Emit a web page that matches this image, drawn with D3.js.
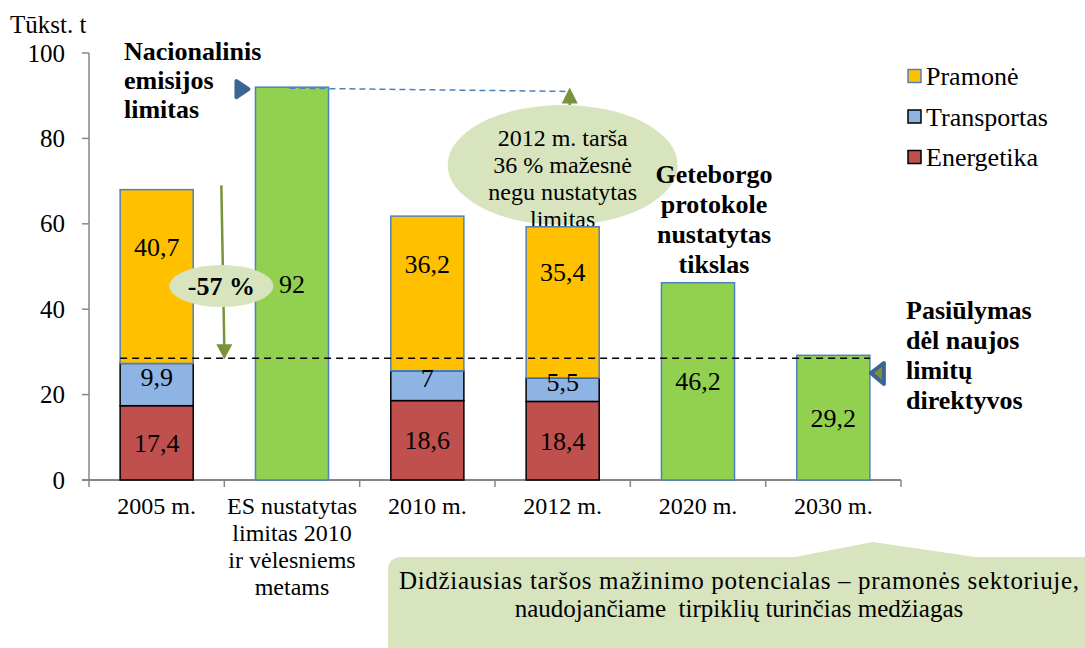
<!DOCTYPE html>
<html><head><meta charset="utf-8"><script src="https://cdn.jsdelivr.net/npm/d3@7"></script></head>
<body style="margin:0">
<svg id="s" width="1085" height="648"></svg>
<script>
// ---------------- DATA ----------------
const categories = ["2005 m.", "ES limitas", "2010 m.", "2012 m.", "2020 m.", "2030 m."];
const categoryLines = [
  ["2005 m."],
  ["ES nustatytas", "limitas 2010", "ir vėlesniems", "metams"],
  ["2010 m."],
  ["2012 m."],
  ["2020 m."],
  ["2030 m."]
];
const energetika  = [17.4, null, 18.6, 18.4, null, null];
const transportas = [9.9,  null, 7,    5.5,  null, null];
const pramone     = [40.7, null, 36.2, 35.4, null, null];
const limitai     = [null, 92,   null, null, 46.2, 29.2];
const yTicks = [0, 20, 40, 60, 80, 100];
const seriesNames = ["Pramonė", "Transportas", "Energetika"];
const proposalLevel = 28.5;
const limit2012Target = 91;
const yUnit = "Tūkst. t";

// ---------------- STYLE ----------------
const FONT = "Liberation Serif";
const colors = { Energetika: "#C0504D", Transportas: "#8EB4E3", "Pramonė": "#FFC000", limit: "#92D050" };
const strokes = { Energetika: "#000", Transportas: "#000", "Pramonė": "#4F81BD", limit: "#4F81BD" };
const noteFill = "#D7E4BD";
const arrowGreen = "#77933C";
const markerBlue = "#3E6494";

const svg = d3.select("#s");
const x = d3.scaleBand().domain(categories).range([89, 901]).paddingInner(0.46).paddingOuter(0.23);
const y = d3.scaleLinear().domain([0, 100]).range([480, 53]);
const fmt = v => String(v).replace(".", ",");

function txt(parent, t, x0, y0, size, opts = {}) {
  const el = parent.append("text").attr("x", x0).attr("y", y0)
    .attr("font-size", size).attr("font-family", FONT)
    .style("font-family", "'Liberation Serif'")
    .attr("text-anchor", opts.anchor || "start");
  if (opts.bold) el.attr("font-weight", "bold");
  if (opts.dy) el.attr("dy", opts.dy);
  if (opts.len) el.attr("textLength", opts.len).attr("lengthAdjust", "spacing");
  el.text(t);
  return el;
}

// ---------- ellipse note (behind bars) ----------
const e1 = svg.append("g");
const e1cx = x("2012 m.") + x.bandwidth() / 2, e1cy = 165;
e1.append("ellipse").attr("cx", e1cx).attr("cy", e1cy).attr("rx", 115).attr("ry", 60).attr("fill", noteFill);
["2012 m. tarša", "36 % mažesnė", "negu nustatytas", "limitas"].forEach((t, i) => {
  txt(e1, t, e1cx, 146 + i * 27, 24, { anchor: "middle" });
});

// ---------- axes ----------
const axisColor = "#868686";
svg.append("line").attr("x1", x.range()[0]).attr("x2", x.range()[0]).attr("y1", y(100)).attr("y2", y(0))
  .attr("stroke", axisColor).attr("stroke-width", 1.5);
yTicks.forEach(v => {
  svg.append("line").attr("x1", x.range()[0] - 7).attr("x2", x.range()[0]).attr("y1", y(v)).attr("y2", y(v))
    .attr("stroke", axisColor).attr("stroke-width", 1.5);
  txt(svg, String(v), x.range()[0] - 24, y(v), 25, { anchor: "end", dy: "0.34em" });
});

const step = x.step();
const bounds = d3.range(categories.length + 1).map(i => x.range()[0] + i * step);
svg.append("line").attr("x1", x.range()[0] - 7).attr("x2", x.range()[1]).attr("y1", y(0)).attr("y2", y(0))
  .attr("stroke", axisColor).attr("stroke-width", 2);
bounds.forEach(d => svg.append("line")
  .attr("x1", d).attr("x2", d).attr("y1", y(0)).attr("y2", y(0) + 7)
  .attr("stroke", axisColor).attr("stroke-width", 1.5));

categoryLines.forEach((lines, i) => {
  const cx = x(categories[i]) + x.bandwidth() / 2;
  lines.forEach((t, j) => txt(svg, t, cx, 514 + j * 27, 24, { anchor: "middle" }));
});

txt(svg, yUnit, 10, 33, 25);

// ---------- bars ----------
const stackRows = categories.map((c, i) => ({ cat: c, Energetika: energetika[i] || 0, Transportas: transportas[i] || 0, "Pramonė": pramone[i] || 0 }));
const stack = d3.stack().keys(["Energetika", "Transportas", "Pramonė"])(stackRows);
const labelShift = { Energetika: 0, Transportas: -8, "Pramonė": -30 };
const bars = svg.append("g");
stack.forEach(layer => {
  const key = layer.key;
  layer.forEach(seg => {
    const v = seg[1] - seg[0];
    if (!v) return;
    bars.append("rect").attr("x", x(seg.data.cat)).attr("width", x.bandwidth())
      .attr("y", y(seg[1])).attr("height", y(seg[0]) - y(seg[1]))
      .attr("fill", colors[key]).attr("stroke", strokes[key]).attr("stroke-width", 1.5);
  });
});
categories.forEach((c, i) => {
  if (limitai[i] == null) return;
  bars.append("rect").attr("x", x(c)).attr("width", x.bandwidth())
    .attr("y", y(limitai[i])).attr("height", y(0) - y(limitai[i]))
    .attr("fill", colors.limit).attr("stroke", strokes.limit).attr("stroke-width", 1.5);
});
stack.forEach(layer => {
  const key = layer.key;
  layer.forEach(seg => {
    const v = seg[1] - seg[0];
    if (!v) return;
    txt(bars, fmt(Math.round(v * 10) / 10), x(seg.data.cat) + x.bandwidth() / 2,
      (y(seg[0]) + y(seg[1])) / 2 + labelShift[key], 26, { anchor: "middle", dy: "0.35em" });
  });
});
categories.forEach((c, i) => {
  if (limitai[i] == null) return;
  txt(bars, fmt(limitai[i]), x(c) + x.bandwidth() / 2, (y(0) + y(limitai[i])) / 2, 26, { anchor: "middle", dy: "0.35em" });
});

// ---------- proposal dashed line ----------
svg.append("line").attr("x1", x("2005 m.")).attr("x2", x("2030 m.") + x.bandwidth())
  .attr("y1", y(proposalLevel)).attr("y2", y(proposalLevel))
  .attr("stroke", "#000").attr("stroke-width", 1.5).attr("stroke-dasharray", "7,5");

// ---------- blue dashed line from limit to 2012 ----------
const upX = e1cx + 7;
svg.append("line").attr("x1", x("ES limitas") + 34).attr("y1", y(92) + 1)
  .attr("x2", upX).attr("y2", y(limit2012Target))
  .attr("stroke", "#4F81BD").attr("stroke-width", 1.5).attr("stroke-dasharray", "6,4");
svg.append("line").attr("x1", upX).attr("x2", upX).attr("y1", e1cy - 60).attr("y2", y(limit2012Target) + 8)
  .attr("stroke", arrowGreen).attr("stroke-width", 2.5);
svg.append("path").attr("d", `M${upX},${y(limit2012Target) - 4} L${upX - 8},${y(limit2012Target) + 12} L${upX + 8},${y(limit2012Target) + 12} Z`)
  .attr("fill", arrowGreen);

// ---------- -57% arrow ----------
const ax = (x("2005 m.") + x.bandwidth() + x("ES limitas")) / 2 - 3;
const arrowBottom = y(proposalLevel) + 1;
svg.append("line").attr("x1", ax).attr("y1", y(69)).attr("x2", ax + 3).attr("y2", arrowBottom - 10)
  .attr("stroke", arrowGreen).attr("stroke-width", 2.5);
svg.append("path").attr("d", `M${ax + 3},${arrowBottom} L${ax - 5},${arrowBottom - 15} L${ax + 11},${arrowBottom - 15} Z`)
  .attr("fill", arrowGreen);
svg.append("ellipse").attr("cx", ax).attr("cy", 286).attr("rx", 52).attr("ry", 21).attr("fill", noteFill);
txt(svg, "-57 %", ax, 286, 26, { anchor: "middle", dy: "0.35em", bold: true });

// ---------- markers ----------
const mL = { x: x("ES limitas") - 7, y: y(92) + 2 };
svg.append("path").attr("d", `M${mL.x},${mL.y} L${mL.x - 12},${mL.y - 8} L${mL.x - 12},${mL.y + 8} Z`)
  .attr("fill", markerBlue).attr("stroke", markerBlue).attr("stroke-width", 4).attr("stroke-linejoin", "round");
const mR = { x: x("2030 m.") + x.bandwidth() + 1, y: 373 };
svg.append("path").attr("d", `M${mR.x},${mR.y} L${mR.x + 13},${mR.y - 10} L${mR.x + 13},${mR.y + 11} Z`)
  .attr("fill", "#7F8F3F").attr("stroke", markerBlue).attr("stroke-width", 4).attr("stroke-linejoin", "round");

// ---------- bold annotations ----------
function block(lines, x0, y0, dy, anchor) {
  lines.forEach((t, i) => txt(svg, t, x0, y0 + i * dy, 26, { anchor, bold: true }));
}
block(["Nacionalinis", "emisijos", "limitas"], 124, 60, 29, "start");
block(["Geteborgo", "protokole", "nustatytas", "tikslas"], 714, 183, 30, "middle");
block(["Pasiūlymas", "dėl naujos", "limitų", "direktyvos"], 906, 319, 30, "start");

// ---------- legend ----------
seriesNames.forEach((n, i) => {
  const ly = 76 + i * 40.5;
  svg.append("rect").attr("x", 908).attr("y", ly - 6.5).attr("width", 13).attr("height", 13)
    .attr("fill", colors[n]).attr("stroke", n === "Pramonė" ? "#4F81BD" : "#000").attr("stroke-width", 1.5);
  txt(svg, n, 926, ly + 9, 26);
});

// ---------- bottom callout ----------
const r = 14, L = 388, T = 557;
svg.append("path").attr("d",
  `M${L},${T + r} Q${L},${T} ${L + r},${T} L795,${T} L873,542 L975,${T} L1100,${T} L1100,660 L${L},660 Z`)
  .attr("fill", noteFill);
txt(svg, "Didžiausias taršos mažinimo potencialas – pramonės sektoriuje,", 739, 589, 25, { anchor: "middle", len: 680 });
txt(svg, "naudojančiame\u00A0 tirpiklių turinčias medžiagas", 739, 617, 25, { anchor: "middle" });
</script>
</body>
</html>
